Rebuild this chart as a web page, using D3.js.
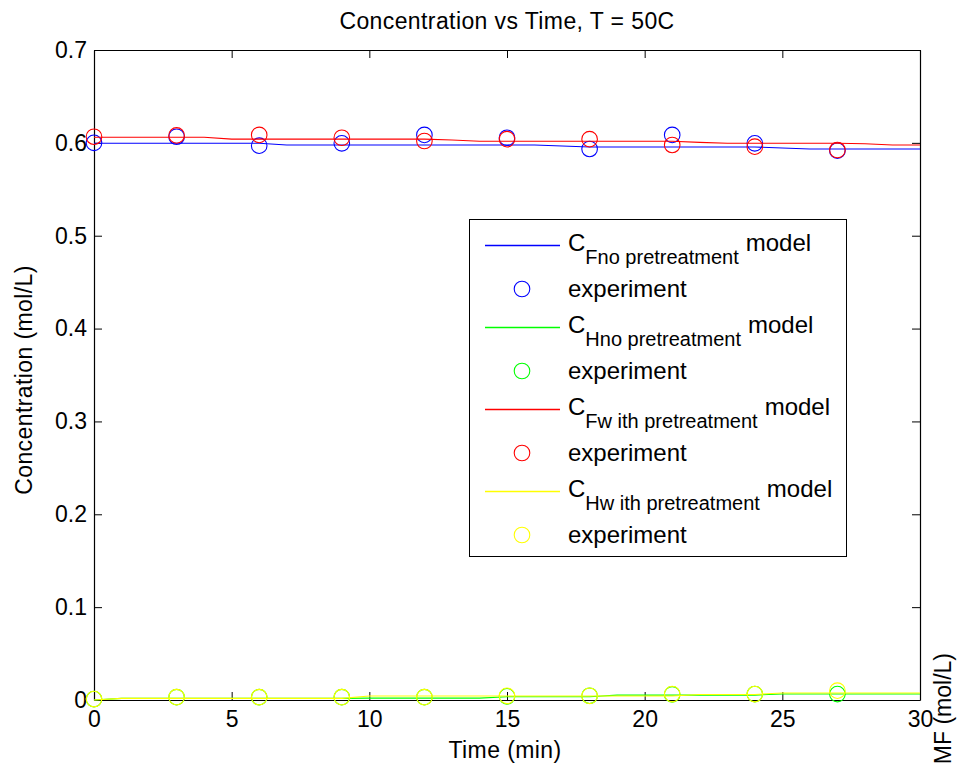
<!DOCTYPE html>
<html>
<head>
<meta charset="utf-8">
<script src="https://cdn.jsdelivr.net/npm/d3@7"></script>
<style>
  html, body { margin: 0; padding: 0; background: #fff; }
  svg { display: block; font-family: "Liberation Sans", Arial, Helvetica, sans-serif; }
</style>
</head>
<body>
<svg id="chart" width="957" height="766"></svg>
<script>
// ---------------- data ----------------
const title = "Concentration vs Time, T = 50C";
const xLabel = "Time (min)";
const yLabel = "Concentration (mol/L)";
const y2Label = "HMF (mol/L)";

const xTicks = [0, 5, 10, 15, 20, 25, 30];
const xTickLabels = ["0", "5", "10", "15", "20", "25", "30"];
const yTicks = [0, 0.1, 0.2, 0.3, 0.4, 0.5, 0.6, 0.7];
const yTickLabels = ["0", "0.1", "0.2", "0.3", "0.4", "0.5", "0.6", "0.7"];

// model time grid (min)
const tModel = [0,1,2,3,4,5,6,7,8,9,10,11,12,13,14,15,16,17,18,19,20,21,22,23,24,25,26,27,28,29,30];
const cfNoModel = [0.5995,0.5995,0.5995,0.5995,0.5995,0.5995,0.5995,0.5977,0.5977,0.5977,0.5977,0.5977,0.5977,0.5977,0.5977,0.5977,0.5977,0.5966,0.5955,0.5955,0.5955,0.5955,0.5955,0.5955,0.5955,0.5944,0.5934,0.5934,0.5934,0.5934,0.5934];
const chNoModel = [0.0000,0.0018,0.0018,0.0018,0.0018,0.0018,0.0018,0.0018,0.0018,0.0018,0.0020,0.0020,0.0020,0.0020,0.0020,0.0035,0.0035,0.0035,0.0035,0.0053,0.0053,0.0053,0.0053,0.0053,0.0053,0.0064,0.0064,0.0064,0.0064,0.0064,0.0064];
const cfWithModel = [0.6060,0.6060,0.6060,0.6060,0.6060,0.6040,0.6040,0.6040,0.6040,0.6040,0.6040,0.6040,0.6040,0.6030,0.6017,0.6017,0.6017,0.6017,0.6017,0.6017,0.6017,0.6017,0.6005,0.5995,0.5995,0.5995,0.5995,0.5995,0.5990,0.5977,0.5977];
const chWithModel = [0.0000,0.0018,0.0018,0.0018,0.0018,0.0018,0.0018,0.0018,0.0018,0.0018,0.0043,0.0043,0.0043,0.0043,0.0043,0.0043,0.0043,0.0043,0.0043,0.0043,0.0043,0.0043,0.0060,0.0060,0.0060,0.0075,0.0075,0.0075,0.0075,0.0075,0.0075];

// experiments
const tExp = [0, 3, 6, 9, 12, 15, 18, 21, 24, 27];
const cfNoExp = [0.6000, 0.6066, 0.5970, 0.5995, 0.6085, 0.6055, 0.5934, 0.6085, 0.5995, 0.5916];
const chNoExp = [0.0010, 0.0030, 0.0030, 0.0030, 0.0030, 0.0040, 0.0046, 0.0060, 0.0064, 0.0064];
const cfWithExp = [0.6066, 0.6080, 0.6085, 0.6055, 0.6020, 0.6040, 0.6040, 0.5977, 0.5959, 0.5923];
const chWithExp = [0.0010, 0.0030, 0.0030, 0.0030, 0.0030, 0.0045, 0.0045, 0.0064, 0.0064, 0.0100];

const seriesNames = ["F no pretreatment", "H no pretreatment", "F with pretreatment", "H with pretreatment"];
const legendSubs = ["Fno pretreatment", "Hno pretreatment", "Fw ith pretreatment", "Hw ith pretreatment"];
const seriesColors = ["#0000ff", "#00ff00", "#ff0000", "#ffff00"];

// ---------------- layout ----------------
const svg = d3.select("#chart");
const L = 94, R = 920, T = 50, B = 700;
const x = d3.scaleLinear().domain([0, 30]).range([L, R]);
const y = d3.scaleLinear().domain([0, 0.7]).range([B, T]);

const modelSets = [cfNoModel, chNoModel, cfWithModel, chWithModel];
const expSets = [cfNoExp, chNoExp, cfWithExp, chWithExp];

// axes (box with inward ticks)
const fontSize = 23;
const gx = svg.append("g").attr("transform", `translate(0,${B})`)
  .call(d3.axisBottom(x).tickValues(xTicks).tickFormat((d, i) => xTickLabels[i]).tickSizeInner(-8).tickSizeOuter(0).tickPadding(10));
const gxTop = svg.append("g").attr("transform", `translate(0,${T})`)
  .call(d3.axisTop(x).tickValues(xTicks).tickFormat("").tickSizeInner(-8).tickSizeOuter(0));
const gy = svg.append("g").attr("transform", `translate(${L},0)`)
  .call(d3.axisLeft(y).tickValues(yTicks).tickFormat((d, i) => yTickLabels[i]).tickSizeInner(-8).tickSizeOuter(0).tickPadding(7));
const gyR = svg.append("g").attr("transform", `translate(${R},0)`)
  .call(d3.axisRight(y).tickValues(yTicks).tickFormat("").tickSizeInner(-8).tickSizeOuter(0));

[gx, gxTop, gy, gyR].forEach(g => {
  g.select(".domain").attr("stroke", "#000").attr("stroke-width", 1.2);
  g.selectAll(".tick line").attr("stroke", "#000").attr("stroke-width", 1);
  g.selectAll(".tick text").attr("fill", "#000").attr("font-size", fontSize)
    .attr("font-family", "'Liberation Sans', Arial, Helvetica, sans-serif");
});
gx.selectAll(".tick text").attr("dy", "0.72em").attr("y", 10);

// data
const line = d3.line().x((d, i) => x(tModel[i])).y(d => y(d));
modelSets.forEach((vals, k) => {
  svg.append("path").datum(vals)
    .attr("d", line)
    .attr("fill", "none")
    .attr("stroke", seriesColors[k])
    .attr("stroke-width", 1.1);
  svg.append("g").selectAll("circle").data(expSets[k]).join("circle")
    .attr("cx", (d, i) => x(tExp[i]))
    .attr("cy", d => y(d))
    .attr("r", 7.8)
    .attr("fill", "none")
    .attr("stroke", seriesColors[k])
    .attr("stroke-width", 1.1);
});

// title and axis labels
svg.append("text").attr("x", 507).attr("y", 29).attr("text-anchor", "middle")
  .attr("font-size", 23).attr("letter-spacing", 0.4).attr("fill", "#000").text(title);
svg.append("text").attr("x", 505).attr("y", 758).attr("text-anchor", "middle")
  .attr("font-size", 23).attr("letter-spacing", 0.4).attr("fill", "#000").text(xLabel);
svg.append("text").attr("transform", "translate(32,380) rotate(-90)").attr("text-anchor", "middle")
  .attr("font-size", 23).attr("letter-spacing", 0.4).attr("fill", "#000").text(yLabel);
svg.append("text").attr("transform", "translate(951,653) rotate(-90)").attr("text-anchor", "end")
  .attr("font-size", 23).attr("fill", "#000").text(y2Label);

// legend
const lg = svg.append("g");
lg.append("rect").attr("x", 469.5).attr("y", 219.5).attr("width", 377).attr("height", 337)
  .attr("fill", "#fff").attr("stroke", "#000").attr("stroke-width", 1);
const rowLineY = [245.5, 327.5, 409.5, 491.5];
seriesNames.forEach((name, k) => {
  const ly = rowLineY[k];
  lg.append("line").attr("x1", 485).attr("x2", 560).attr("y1", ly).attr("y2", ly)
    .attr("stroke", seriesColors[k]).attr("stroke-width", 1.3);
  const t = lg.append("text").attr("x", 568).attr("y", ly + 5).attr("font-size", 24).attr("fill", "#000");
  t.append("tspan").text("C");
  t.append("tspan").attr("font-size", 20).attr("dy", 13).text(legendSubs[k]);
  t.append("tspan").attr("dy", -13).attr("dx", 7).text("model");
  lg.append("circle").attr("cx", 522).attr("cy", ly + 43.5).attr("r", 7.8)
    .attr("fill", "none").attr("stroke", seriesColors[k]).attr("stroke-width", 1.1);
  lg.append("text").attr("x", 568).attr("y", ly + 51).attr("font-size", 24).attr("fill", "#000").text("experiment");
});
</script>
</body>
</html>
